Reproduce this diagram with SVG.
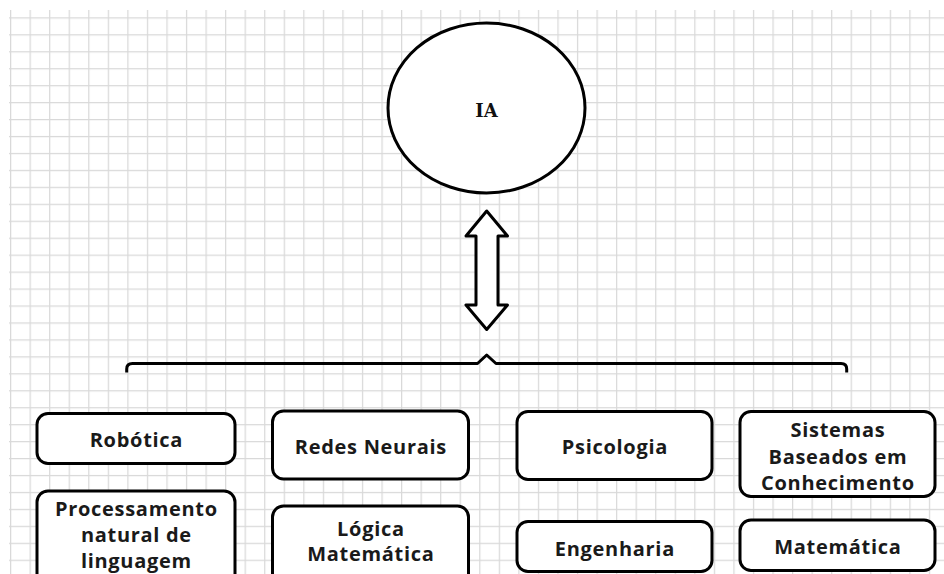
<svg xmlns="http://www.w3.org/2000/svg" width="944" height="574" viewBox="0 0 944 574">
  <defs>
    <pattern id="grid" patternUnits="userSpaceOnUse" x="10" y="17.3" width="19.55" height="16.95">
      <path d="M0.6,0 V16.95 M0,0.6 H19.55" fill="none" stroke="#d9d9d9" stroke-width="1.3"/>
    </pattern>
  </defs>
  <style>
    .box { fill: #fff; stroke: #000; stroke-width: 3; }
    .lbl { font-family: "Open Sans", "DejaVu Sans", sans-serif; font-weight: bold; font-size: 20px; letter-spacing: 0.7px; fill: #1a1a1a; text-anchor: middle; }
    .line { fill: none; stroke: #000; stroke-width: 3; stroke-linejoin: round; }
  </style>
  <rect width="944" height="574" fill="#fff"/>
  <rect x="9" y="10" width="935" height="564" fill="url(#grid)"/>

  <g id="ia">
    <ellipse cx="486.5" cy="108" rx="98.5" ry="85" class="box"/>
    <text x="486.5" y="116.5" font-family="DejaVu Serif, serif" font-weight="bold" font-size="18" text-anchor="middle" fill="#111">IA</text>
  </g>

  <g id="connectors">
    <path class="line" style="fill:#fff" d="M486.7,211 L507.5,236 L498,236 L498,305 L507.5,305 L486.7,329.5 L466,305 L476,305 L476,236 L466,236 Z"/>
    <path class="line" d="M126.7,372.5 L126.7,369 Q126.7,363.5 132.5,363.5 L477.5,363.5 L486.7,355 L496,363.5 L841,363.5 Q846.7,363.5 846.7,369 L846.7,372.5"/>
  </g>

  <g id="robotica">
    <rect class="box" x="37" y="413.5" width="198" height="50" rx="11"/>
    <text class="lbl" x="136.4" y="446.5">Robótica</text>
  </g>
  <g id="processamento">
    <rect class="box" x="37" y="491" width="198" height="100" rx="11"/>
    <text class="lbl" x="136.4" y="516">Processamento</text>
    <text class="lbl" x="136.4" y="542">natural de</text>
    <text class="lbl" x="136.4" y="568">linguagem</text>
  </g>
  <g id="redes">
    <rect class="box" x="272.5" y="411" width="196" height="68" rx="11"/>
    <text class="lbl" x="370.9" y="454">Redes Neurais</text>
  </g>
  <g id="logica">
    <rect class="box" x="272.5" y="506" width="196" height="90" rx="11"/>
    <text class="lbl" x="370.9" y="535.5">Lógica</text>
    <text class="lbl" x="370.9" y="560.5">Matemática</text>
  </g>
  <g id="psicologia">
    <rect class="box" x="517" y="411.5" width="195" height="68" rx="11"/>
    <text class="lbl" x="614.9" y="454">Psicologia</text>
  </g>
  <g id="engenharia">
    <rect class="box" x="517" y="521.5" width="195" height="50" rx="11"/>
    <text class="lbl" x="614.9" y="556">Engenharia</text>
  </g>
  <g id="sistemas">
    <rect class="box" x="740" y="411.5" width="195" height="85" rx="11"/>
    <text class="lbl" x="837.9" y="437">Sistemas</text>
    <text class="lbl" x="837.9" y="463.5">Baseados em</text>
    <text class="lbl" x="837.9" y="490">Conhecimento</text>
  </g>
  <g id="matematica">
    <rect class="box" x="740" y="520" width="195" height="50.5" rx="11"/>
    <text class="lbl" x="837.9" y="554">Matemática</text>
  </g>
</svg>
